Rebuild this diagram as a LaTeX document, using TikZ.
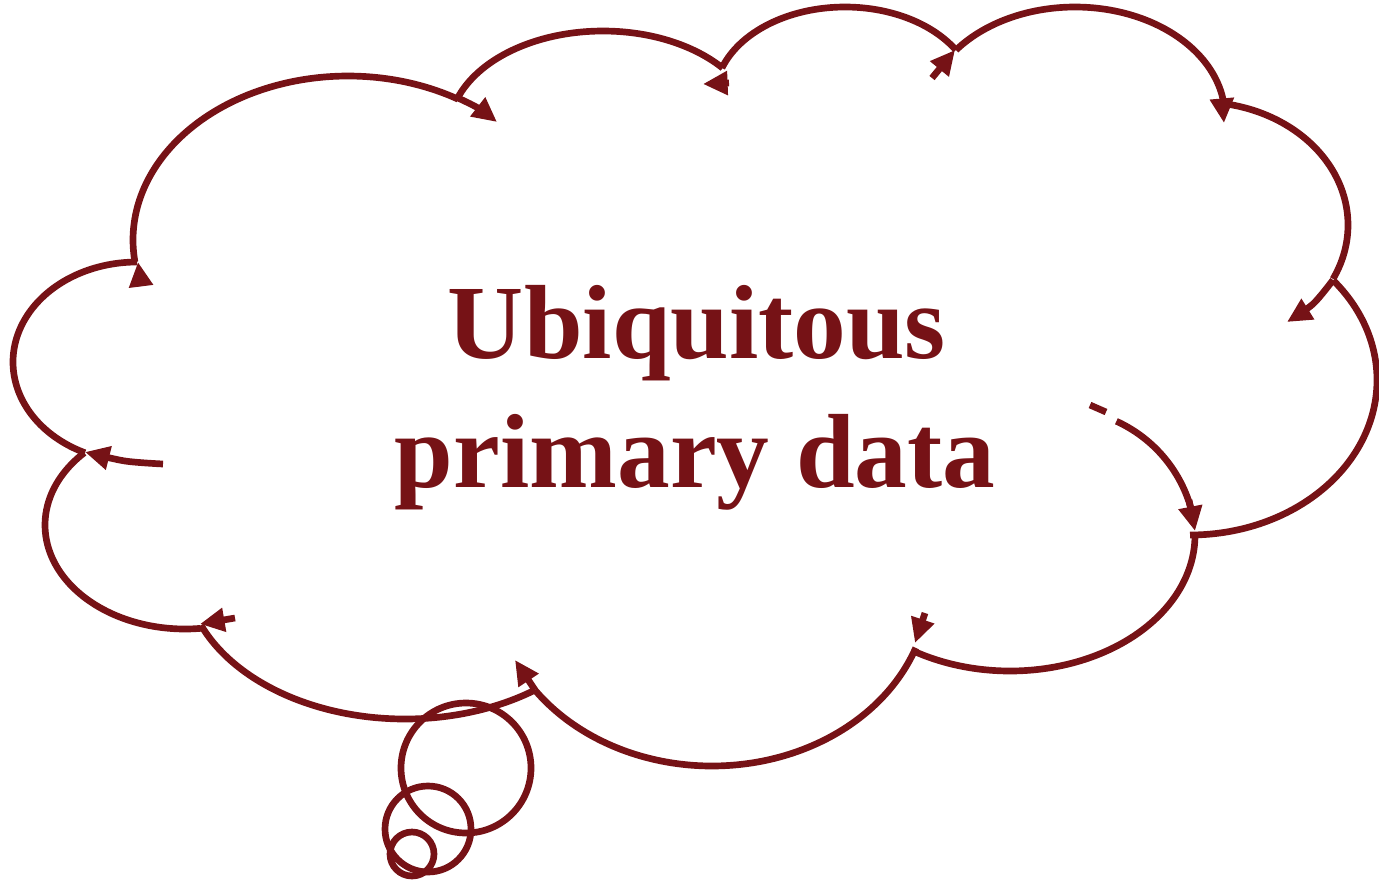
\documentclass[tikz,border=0pt]{standalone}
\usepackage{fontspec}
\setmainfont{Liberation Serif}
\usetikzlibrary{arrows.meta}
\definecolor{dred}{RGB}{118,18,22}
\begin{document}
\begin{tikzpicture}[x=0.02cm,y=-0.02cm,
  outl/.style={draw=dred,line width=3.8pt,line join=round},
  arr/.style={outl,-{Triangle[length=14pt,width=13pt]}},
  lbl/.style={text=dred,font=\fontsize{60}{72}\selectfont\bfseries,anchor=base,inner sep=0pt}]
\useasboundingbox (0,0) rectangle (1379,880);
% lobes: centre (cx,cy), radii rx, ry, angles in picture frame (y down)
\newcommand{\lobe}[7][]{%
  \draw[outl,#1] plot[domain=#6:#7,samples=60,smooth] ({#2+#4*cos(\x)},{#3+#5*sin(\x)});}
\lobe{137}{362}{124}{100}{270}{114.8}
\lobe{185}{525}{140}{104}{224}{83.6}
\lobe{405}{569}{220}{150}{158}{53.8}
\lobe{712}{586}{217}{180}{144.7}{20.1}
\lobe{1010}{535}{185}{136}{121}{0}
\lobe{1190}{380}{187}{155}{90}{-40}
\lobe{1200}{225}{148}{123}{26}{-81.4}
\lobe{1075}{117}{150}{110}{-7.3}{-142.5}
\lobe{845}{97}{130}{90}{-31.5}{-161.2}
\lobe{603}{131}{154}{100}{-39}{-160.7}
\lobe{348}{240}{215}{164}{-59.2}{-187.7}
% inner arcs with tips
\draw[arr] plot[smooth] coordinates {(458,98) (478,108) (497,122)};
\draw[arr] (729,83) -- (703,84);
\draw[arr] (932,78) -- (955,50);
\draw[arr] (1222,100) -- (1224,123);
\draw[arr] plot[smooth] coordinates {(1333,280) (1313,304) (1287,322)};
\draw[outl] (1090,405) -- (1106,412);
\lobe{1060}{545}{136}{136}{-65.5}{-12}
\draw[arr] (1189,500) -- (1195,531);
\draw[arr] (925,613) -- (915,643);
\draw[arr] (535,690) -- (515,660);
\draw[arr] (235,618) -- (200,624);
\draw[arr] plot[smooth] coordinates {(163,464) (125,461) (85,452)};
\draw[arr] (141,286) -- (138,262);
% bubbles
\draw[outl] (466,768) circle[radius=65];
\draw[outl] (428,829) circle[radius=43];
\draw[outl] (412,854) circle[radius=22];
% text
\node[lbl] (t1) at (697,358) {Ubiquitous};
\node[lbl] (t2) at (695,487) {primary data};
\end{tikzpicture}
\end{document}
